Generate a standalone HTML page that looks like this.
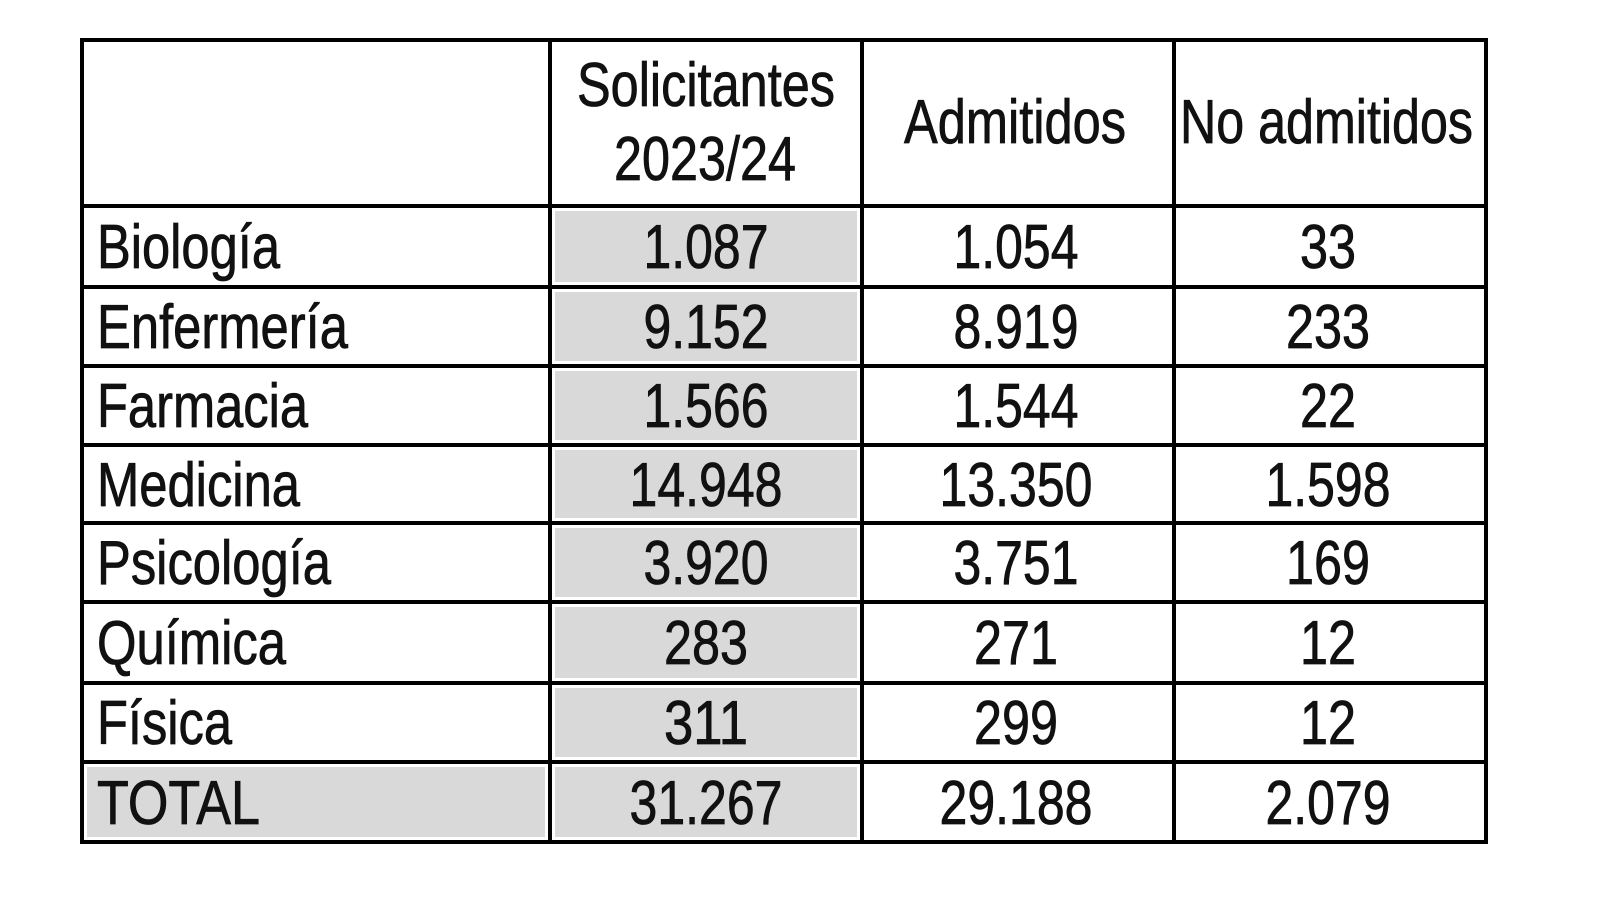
<!DOCTYPE html>
<html><head><meta charset="utf-8"><style>
html,body{margin:0;padding:0;background:#fff;width:1600px;height:911px;overflow:hidden}
svg text{font-family:"Liberation Sans",Arial,sans-serif;font-size:62px;fill:#111;stroke:#111;stroke-width:0.8px}
</style></head><body>
<svg width="1600" height="911" viewBox="0 0 1600 911" xmlns="http://www.w3.org/2000/svg">
<g fill="#d9d9d9">
<rect x="555" y="211" width="302" height="71"/>
<rect x="555" y="292" width="302" height="69"/>
<rect x="555" y="371" width="302" height="69"/>
<rect x="555" y="450" width="302" height="68"/>
<rect x="555" y="528" width="302" height="69"/>
<rect x="555" y="607" width="302" height="71"/>
<rect x="555" y="688" width="302" height="69"/>
<rect x="555" y="767" width="302" height="70"/>
<rect x="87" y="767" width="458" height="70"/>
</g>
<g fill="#000">
<rect x="80" y="38" width="1408" height="4"/>
<rect x="80" y="204" width="1408" height="4"/>
<rect x="80" y="285" width="1408" height="4"/>
<rect x="80" y="364" width="1408" height="4"/>
<rect x="80" y="443" width="1408" height="4"/>
<rect x="80" y="521" width="1408" height="4"/>
<rect x="80" y="600" width="1408" height="4"/>
<rect x="80" y="681" width="1408" height="4"/>
<rect x="80" y="760" width="1408" height="4"/>
<rect x="80" y="840" width="1408" height="4"/>
<rect x="80" y="38" width="4" height="806"/>
<rect x="548" y="38" width="4" height="806"/>
<rect x="860" y="38" width="4" height="806"/>
<rect x="1172" y="38" width="4" height="806"/>
<rect x="1484" y="38" width="4" height="806"/>
</g>
<text x="577" y="106" textLength="258" lengthAdjust="spacingAndGlyphs">Solicitantes</text>
<text x="614" y="180" textLength="182" lengthAdjust="spacingAndGlyphs">2023/24</text>
<text x="904" y="143" textLength="222" lengthAdjust="spacingAndGlyphs">Admitidos</text>
<text x="1180" y="143" textLength="293" lengthAdjust="spacingAndGlyphs">No admitidos</text>
<text x="97" y="268" textLength="183" lengthAdjust="spacingAndGlyphs">Biología</text>
<text x="97" y="348" textLength="251" lengthAdjust="spacingAndGlyphs">Enfermería</text>
<text x="97" y="427" textLength="211" lengthAdjust="spacingAndGlyphs">Farmacia</text>
<text x="97" y="506" textLength="203" lengthAdjust="spacingAndGlyphs">Medicina</text>
<text x="97" y="584" textLength="234" lengthAdjust="spacingAndGlyphs">Psicología</text>
<text x="97" y="664" textLength="189" lengthAdjust="spacingAndGlyphs">Química</text>
<text x="97" y="744" textLength="135" lengthAdjust="spacingAndGlyphs">Física</text>
<text x="97" y="824" textLength="163" lengthAdjust="spacingAndGlyphs">TOTAL</text>
<g text-anchor="middle">
<text x="706" y="268" textLength="125" lengthAdjust="spacingAndGlyphs">1.087</text>
<text x="1016" y="268" textLength="125" lengthAdjust="spacingAndGlyphs">1.054</text>
<text x="1328" y="268" textLength="56" lengthAdjust="spacingAndGlyphs">33</text>
<text x="706" y="348" textLength="125" lengthAdjust="spacingAndGlyphs">9.152</text>
<text x="1016" y="348" textLength="125" lengthAdjust="spacingAndGlyphs">8.919</text>
<text x="1328" y="348" textLength="84" lengthAdjust="spacingAndGlyphs">233</text>
<text x="706" y="427" textLength="125" lengthAdjust="spacingAndGlyphs">1.566</text>
<text x="1016" y="427" textLength="125" lengthAdjust="spacingAndGlyphs">1.544</text>
<text x="1328" y="427" textLength="56" lengthAdjust="spacingAndGlyphs">22</text>
<text x="706" y="506" textLength="153" lengthAdjust="spacingAndGlyphs">14.948</text>
<text x="1016" y="506" textLength="153" lengthAdjust="spacingAndGlyphs">13.350</text>
<text x="1328" y="506" textLength="125" lengthAdjust="spacingAndGlyphs">1.598</text>
<text x="706" y="584" textLength="125" lengthAdjust="spacingAndGlyphs">3.920</text>
<text x="1016" y="584" textLength="125" lengthAdjust="spacingAndGlyphs">3.751</text>
<text x="1328" y="584" textLength="84" lengthAdjust="spacingAndGlyphs">169</text>
<text x="706" y="664" textLength="84" lengthAdjust="spacingAndGlyphs">283</text>
<text x="1016" y="664" textLength="84" lengthAdjust="spacingAndGlyphs">271</text>
<text x="1328" y="664" textLength="56" lengthAdjust="spacingAndGlyphs">12</text>
<text x="706" y="744" textLength="84" lengthAdjust="spacingAndGlyphs">311</text>
<text x="1016" y="744" textLength="84" lengthAdjust="spacingAndGlyphs">299</text>
<text x="1328" y="744" textLength="56" lengthAdjust="spacingAndGlyphs">12</text>
<text x="706" y="824" textLength="153" lengthAdjust="spacingAndGlyphs">31.267</text>
<text x="1016" y="824" textLength="153" lengthAdjust="spacingAndGlyphs">29.188</text>
<text x="1328" y="824" textLength="125" lengthAdjust="spacingAndGlyphs">2.079</text>
</g>
</svg>
</body></html>
